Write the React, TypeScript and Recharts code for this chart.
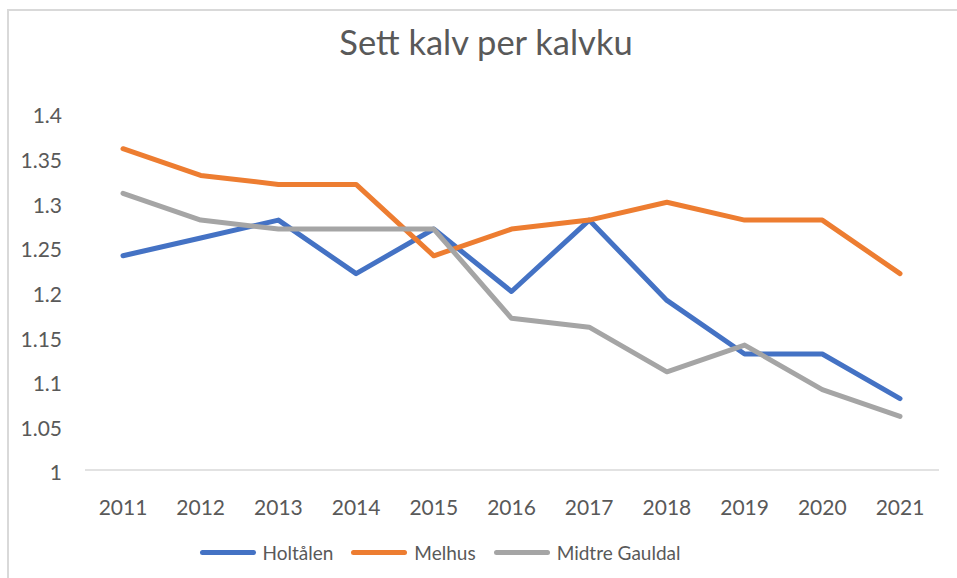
import { Line, LineChart, XAxis, YAxis } from 'recharts'

const years = ['2011', '2012', '2013', '2014', '2015', '2016', '2017', '2018', '2019', '2020', '2021']
const holtalen = [1.24, 1.26, 1.28, 1.22, 1.27, 1.2, 1.28, 1.19, 1.13, 1.13, 1.08]
const melhus = [1.36, 1.33, 1.32, 1.32, 1.24, 1.27, 1.28, 1.3, 1.28, 1.28, 1.22]
const midtreGauldal = [1.31, 1.28, 1.27, 1.27, 1.27, 1.17, 1.16, 1.11, 1.14, 1.09, 1.06]
const yTicks = [1, 1.05, 1.1, 1.15, 1.2, 1.25, 1.3, 1.35, 1.4]

const series = [
  { key: 'holtalen', name: 'Holtålen', color: '#4472c4' },
  { key: 'melhus', name: 'Melhus', color: '#ed7d31' },
  { key: 'midtre', name: 'Midtre Gauldal', color: '#a5a5a5' },
]

const data = years.map((year, i) => ({
  year,
  holtalen: holtalen[i],
  melhus: melhus[i],
  midtre: midtreGauldal[i],
}))

const font = 'Lato, "Open Sans", sans-serif'
const textColor = '#595959'
const tickStyle = { fontSize: 21, fill: textColor, fontFamily: font }

export default function App() {
  return (
    <div style={{ position: 'absolute', left: 0, top: 0, width: 957, height: 578, background: '#fff', overflow: 'hidden' }}>
      <style>{'body{margin:0}'}</style>
      <div style={{ position: 'absolute', left: 7, top: 9, width: 980, height: 600, border: '2px solid #d9d9d9' }} />
      <div style={{ position: 'absolute', left: 0, top: 21, width: 972, textAlign: 'center', fontFamily: font, fontSize: 34.5, color: textColor }}>
        Sett kalv per kalvku
      </div>
      <div style={{ position: 'absolute', left: 0, width: 957 }}>
        <LineChart width={957} height={578} data={data} margin={{ top: 113, right: 18, bottom: 68, left: 25 }}>
          <XAxis
            dataKey="year"
            tick={tickStyle}
            tickLine={false}
            tickSize={0}
            tickMargin={30}
            height={40}
            axisLine={{ stroke: '#d9d9d9', strokeWidth: 1.5 }}
            padding={{ left: 38, right: 39 }}
            interval={0}
          />
          <YAxis
            domain={[1, 1.4]}
            ticks={yTicks}
            tick={{ ...tickStyle, dy: 3 }}
            tickLine={false}
            tickSize={0}
            tickMargin={23}
            axisLine={false}
            width={60}
            interval={0}
          />
          {series.map((s) => (
            <Line
              key={s.key}
              type="linear"
              dataKey={s.key}
              name={s.name}
              stroke={s.color}
              strokeWidth={5}
              strokeLinecap="round"
              strokeLinejoin="round"
              dot={false}
              activeDot={false}
              isAnimationActive={false}
            />
          ))}
        </LineChart>
      </div>
      <div style={{ position: 'absolute', left: 0, top: 541, width: 898, display: 'flex', justifyContent: 'center', fontFamily: font, fontSize: 19, color: textColor }}>
        {series.map((s) => (
          <div key={s.key} style={{ display: 'flex', alignItems: 'center', marginRight: 18 }}>
            <span style={{ display: 'inline-block', width: 56, height: 5, borderRadius: 3, background: s.color, marginRight: 7 }} />
            <span>{s.name}</span>
          </div>
        ))}
      </div>
    </div>
  )
}
